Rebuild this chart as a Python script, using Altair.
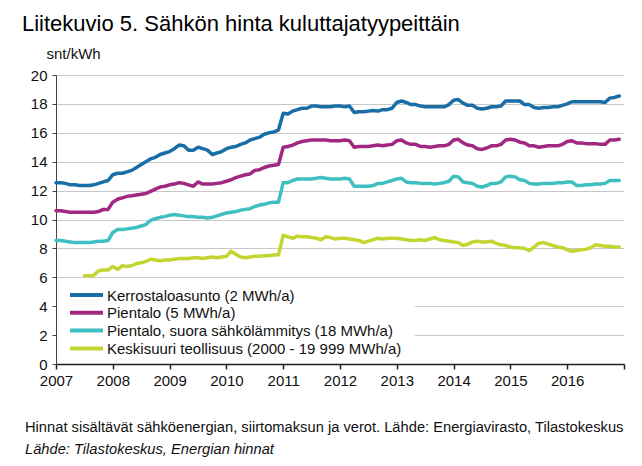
import altair as alt
import pandas as pd

series = [
    "Kerrostaloasunto (2 MWh/a)",
    "Pientalo (5 MWh/a)",
    "Pientalo, suora sähkölämmitys (18 MWh/a)",
    "Keskisuuri teollisuus (2000 - 19 999 MWh/a)",
]
colors = ["#1a6ea8", "#a02882", "#3fbfbf", "#c3d530"]

years = list(range(2007, 2018))
y_ticks = list(range(0, 21, 2))

# monthly values, Jan 2007 - Dec 2016
kerrostalo = [
    12.55, 12.55, 12.5, 12.4, 12.4, 12.35, 12.35, 12.35, 12.4, 12.5, 12.6, 12.7,
    13.1, 13.2, 13.2, 13.3, 13.4, 13.6, 13.8, 14.0, 14.2, 14.3, 14.5, 14.6,
    14.7, 14.9, 15.15, 15.1, 14.8, 14.8, 15.0, 14.9, 14.8, 14.5, 14.6, 14.7,
    14.9, 15.0, 15.05, 15.2, 15.3, 15.5, 15.6, 15.7, 15.9, 16.0, 16.05, 16.2,
    17.35, 17.3, 17.5, 17.6, 17.7, 17.7, 17.85, 17.85, 17.8, 17.8, 17.8, 17.85,
    17.85, 17.8, 17.85, 17.4, 17.45, 17.45, 17.5, 17.55, 17.5, 17.6, 17.6, 17.7,
    18.1, 18.2, 18.1, 17.95, 17.95, 17.85, 17.8, 17.8, 17.8, 17.8, 17.8, 17.95,
    18.25, 18.3, 18.05, 17.9, 17.9, 17.7, 17.65, 17.7, 17.8, 17.8, 17.85, 18.2,
    18.2, 18.2, 18.2, 17.95, 17.95, 17.75, 17.7, 17.75, 17.75, 17.8, 17.8, 17.9,
    18.0, 18.15, 18.15, 18.15, 18.15, 18.15, 18.15, 18.15, 18.1, 18.4, 18.45, 18.55,
]
pientalo = [
    10.6, 10.6, 10.55, 10.5, 10.5, 10.5, 10.5, 10.5, 10.5, 10.55, 10.7, 10.7,
    11.2, 11.4, 11.5, 11.6, 11.65, 11.7, 11.75, 11.8, 11.95, 12.1, 12.25, 12.3,
    12.4, 12.45, 12.55, 12.5, 12.4, 12.3, 12.6, 12.45, 12.45, 12.45, 12.5, 12.55,
    12.65, 12.75, 12.9, 13.0, 13.1, 13.15, 13.4, 13.45, 13.6, 13.7, 13.75, 13.8,
    15.0, 15.05, 15.15, 15.3, 15.4, 15.45, 15.5, 15.5, 15.5, 15.5, 15.45, 15.45,
    15.45, 15.5, 15.45, 15.0, 15.05, 15.05, 15.05, 15.1, 15.15, 15.1, 15.15, 15.2,
    15.45, 15.5, 15.3, 15.2, 15.2, 15.05, 15.05, 15.0, 15.05, 15.1, 15.1, 15.2,
    15.5, 15.55, 15.3, 15.15, 15.1, 14.9, 14.85, 14.95, 15.1, 15.1, 15.2, 15.5,
    15.55, 15.5, 15.35, 15.3, 15.1, 15.1, 15.0, 15.05, 15.1, 15.1, 15.1, 15.2,
    15.4, 15.45, 15.3, 15.3, 15.25, 15.25, 15.25, 15.2, 15.2, 15.5, 15.5, 15.55,
]
sahkolammitys = [
    8.55, 8.55, 8.5, 8.45, 8.4, 8.4, 8.4, 8.4, 8.45, 8.5, 8.5, 8.55,
    9.1, 9.3, 9.3, 9.35, 9.4, 9.45, 9.55, 9.65, 9.95, 10.05, 10.15, 10.2,
    10.3, 10.35, 10.3, 10.25, 10.2, 10.2, 10.15, 10.15, 10.1, 10.15, 10.25, 10.35,
    10.45, 10.5, 10.55, 10.65, 10.7, 10.75, 10.9, 11.0, 11.05, 11.15, 11.2, 11.2,
    12.55, 12.55, 12.7, 12.8, 12.8, 12.8, 12.8, 12.85, 12.9, 12.85, 12.8, 12.8,
    12.8, 12.85, 12.8, 12.3, 12.3, 12.3, 12.3, 12.35, 12.5, 12.5, 12.6, 12.7,
    12.8, 12.85, 12.6, 12.55, 12.55, 12.5, 12.5, 12.5, 12.45, 12.5, 12.55, 12.65,
    13.0, 12.95, 12.6, 12.55, 12.5, 12.3, 12.25, 12.35, 12.5, 12.5, 12.6, 12.95,
    13.0, 12.95, 12.75, 12.7, 12.5, 12.45, 12.45, 12.5, 12.5, 12.5, 12.55, 12.55,
    12.6, 12.6, 12.35, 12.35, 12.4, 12.4, 12.45, 12.45, 12.5, 12.7, 12.7, 12.7,
]
# Jul 2007 - Dec 2016
teollisuus = [
    6.1, 6.1, 6.15, 6.45, 6.5, 6.5,
    6.75, 6.55, 6.8, 6.75, 6.8, 6.95, 7.0, 7.1, 7.25, 7.2, 7.15, 7.2,
    7.2, 7.25, 7.3, 7.3, 7.3, 7.35, 7.35, 7.3, 7.35, 7.4, 7.35, 7.4,
    7.45, 7.8, 7.6, 7.4, 7.35, 7.4, 7.45, 7.45, 7.5, 7.5, 7.55, 7.55,
    8.9, 8.8, 8.7, 8.85, 8.8, 8.8, 8.75, 8.7, 8.6, 8.8, 8.75, 8.65,
    8.7, 8.7, 8.65, 8.6, 8.55, 8.4, 8.5, 8.6, 8.7, 8.65, 8.7, 8.7,
    8.7, 8.65, 8.6, 8.55, 8.55, 8.6, 8.55, 8.65, 8.75, 8.6, 8.55, 8.5,
    8.45, 8.4, 8.2, 8.3, 8.45, 8.5, 8.45, 8.45, 8.5, 8.35, 8.25, 8.2,
    8.1, 8.05, 8.05, 8.0, 7.85, 8.1, 8.35, 8.4, 8.3, 8.2, 8.1, 8.05,
    7.9, 7.8, 7.85, 7.9, 7.95, 8.05, 8.25, 8.2, 8.15, 8.15, 8.1, 8.1,
]

months = [2007 + i / 12 for i in range(120)]

title_text = "Liitekuvio 5. Sähkön hinta kuluttajatyypeittäin"
footer1 = "Hinnat sisältävät sähköenergian, siirtomaksun ja verot. Lähde: Energiavirasto, Tilastokeskus"
footer2 = "Lähde: Tilastokeskus, Energian hinnat"

rows = []
for name, vals in zip(series, [kerrostalo, pientalo, sahkolammitys, teollisuus]):
    start = 120 - len(vals)
    for t, v in zip(months[start:], vals):
        rows.append({"t": t, "v": v, "s": name})
df = pd.DataFrame(rows)

FONT = "Liberation Sans"

lines = alt.Chart(df).mark_line(strokeWidth=3.5, strokeJoin="round", strokeCap="round").encode(
    x=alt.X(
        "t:Q",
        scale=alt.Scale(domain=[2007, 2017], nice=False, zero=False),
        axis=alt.Axis(
            values=years, format="d",
            labelExpr="datum.value == 2017 ? '' : datum.label",
            grid=False, domainColor="#222222", domainWidth=1.5,
            tickColor="#222222", tickWidth=1.5, tickSize=5,
            labelFontSize=15, labelFont=FONT, labelColor="#111111",
            labelPadding=4, labelFlush=False, title=None,
        ),
    ),
    y=alt.Y(
        "v:Q",
        scale=alt.Scale(domain=[0, 20], nice=False),
        axis=alt.Axis(
            values=y_ticks, grid=True, gridColor="#c8c8c8", gridWidth=1,
            domainColor="#444444", domainWidth=1, tickColor="#444444", tickSize=4,
            labelFontSize=15, labelFont=FONT, labelColor="#111111", labelPadding=5,
            title="snt/kWh", titleAngle=0, titleX=-10, titleY=-17,
            titleAlign="left", titleBaseline="alphabetic",
            titleFontSize=15, titleFont=FONT, titleFontWeight="normal", titleColor="#111111",
        ),
    ),
    color=alt.Color("s:N", scale=alt.Scale(domain=series, range=colors), legend=None),
)

# legend drawn by hand: white box, stroke symbols and labels
legend_box = alt.Chart(pd.DataFrame({"a": [0]})).mark_rect(color="white").encode(
    x=alt.value(1), x2=alt.value(359), y=alt.value(209), y2=alt.value(287)
)
legend_layers = [legend_box]
for i, (name, col) in enumerate(zip(series, colors)):
    yy = 220 + i * 17.8
    ldf = pd.DataFrame({"s": [name]})
    legend_layers.append(
        alt.Chart(ldf).mark_rule(color=col, strokeWidth=4).encode(
            x=alt.value(14), x2=alt.value(47), y=alt.value(yy)
        )
    )
    legend_layers.append(
        alt.Chart(ldf).mark_text(
            align="left", baseline="middle", fontSize=15, font=FONT, color="#111111"
        ).encode(text="s:N", x=alt.value(51), y=alt.value(yy + 0.5))
    )

title = alt.Chart(pd.DataFrame({"txt": [title_text]})).mark_text(
    align="left", baseline="alphabetic", fontSize=22, font=FONT, color="#000000"
).encode(text="txt:N", x=alt.value(-34), y=alt.value(-44))

f1 = alt.Chart(pd.DataFrame({"txt": [footer1]})).mark_text(
    align="left", baseline="alphabetic", fontSize=14.7, font=FONT, color="#111111"
).encode(text="txt:N", x=alt.value(-31), y=alt.value(357))

f2 = alt.Chart(pd.DataFrame({"txt": [footer2]})).mark_text(
    align="left", baseline="alphabetic", fontSize=14.7, font=FONT, fontStyle="italic", color="#111111"
).encode(text="txt:N", x=alt.value(-31), y=alt.value(379))

chart = alt.layer(lines, *legend_layers, title, f1, f2).properties(
    width=568, height=289,
    autosize=alt.AutoSizeParams(type="none"),
    padding={"left": 48, "top": 67, "right": 10, "bottom": 94},
).configure(font=FONT).configure_view(strokeWidth=0)

chart.save("out.html", embed_options={"renderer": "svg", "actions": False})
